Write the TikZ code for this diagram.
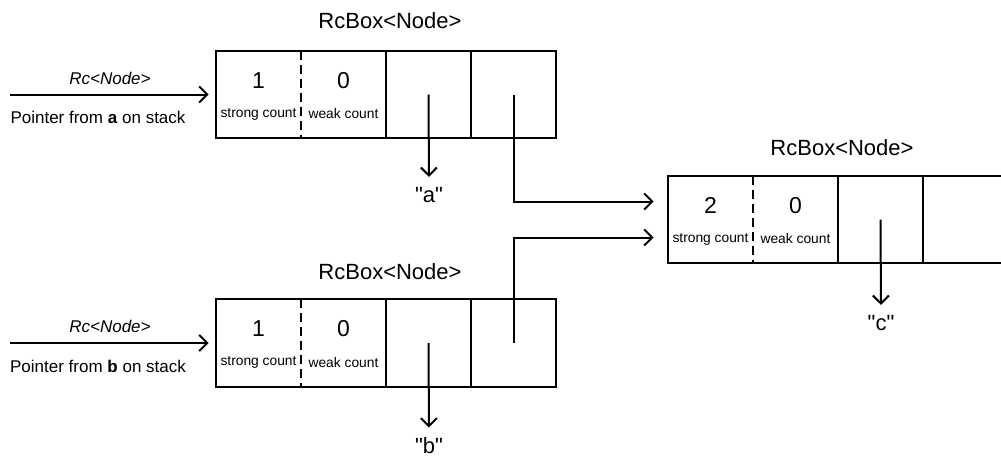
\documentclass[tikz,border=0pt]{standalone}
\usepackage{fontspec}
\setmainfont{Liberation Sans}[Ligatures=TeXOff]
\usetikzlibrary{arrows.meta}

\begin{document}
\begin{tikzpicture}[
    x=0.5pt, y=-0.5pt,
    cell/.style={rectangle, inner sep=0pt, minimum width=42.5pt, minimum height=43.5pt},
    frame/.style={line width=1pt},
    divider/.style={line width=1pt, dash pattern=on 4.5pt off 2.5pt},
    ptr/.style={line width=1pt, -{Straight Barb[length=4pt, width=8pt]}},
    title/.style={font=\fontsize{11}{13}\selectfont},
    count/.style={font=\fontsize{11.5}{13}\selectfont},
    countlabel/.style={font=\fontsize{6.9}{9}\selectfont, inner sep=0pt},
    stackname/.style={font=\fontsize{8.5}{10}\selectfont\itshape},
    stacklabel/.style={font=\fontsize{8.5}{10}\selectfont},
    value/.style={font=\fontsize{11}{13}\selectfont, inner sep=1pt}
]
    \useasboundingbox (0,0) rectangle (1001,456);
    \clip (0,0) rectangle (1001,456);

    % RcBox pointed to by a
    \node[title] (atitle) at (390, 21) {RcBox<Node>};
    \node[cell] (a1) at (258.5, 94.5) {};
    \node[cell] (a2) at (343.5, 94.5) {};
    \node[cell] (a3) at (428.5, 94.5) {};
    \node[cell] (a4) at (513.5, 94.5) {};
    \draw[frame] (a1.north west) rectangle (a4.south east);
    \draw[divider] (a1.north east) -- (a1.south east);
    \draw[frame] (a2.north east) -- (a2.south east);
    \draw[frame] (a3.north east) -- (a3.south east);
    \node[count] (astrong) at ([yshift=7pt]a1.center) {1};
    \node[count] (aweak) at ([yshift=7pt]a2.center) {0};
    \node[countlabel] (astronglbl) at ([yshift=-9.75pt]a1.center) {strong count};
    \node[countlabel] (aweaklbl) at ([yshift=-9.75pt]a2.center) {weak count};
    \node[value] (aval) at (429, 195) {"a"};

    % RcBox pointed to by b
    \node[title] (btitle) at (390, 272) {RcBox<Node>};
    \node[cell] (b1) at (258.5, 343) {};
    \node[cell] (b2) at (343.5, 343) {};
    \node[cell] (b3) at (428.5, 343) {};
    \node[cell] (b4) at (513.5, 343) {};
    \draw[frame] (b1.north west) rectangle (b4.south east);
    \draw[divider] (b1.north east) -- (b1.south east);
    \draw[frame] (b2.north east) -- (b2.south east);
    \draw[frame] (b3.north east) -- (b3.south east);
    \node[count] (bstrong) at ([yshift=7pt]b1.center) {1};
    \node[count] (bweak) at ([yshift=7pt]b2.center) {0};
    \node[countlabel] (bstronglbl) at ([yshift=-9.75pt]b1.center) {strong count};
    \node[countlabel] (bweaklbl) at ([yshift=-9.75pt]b2.center) {weak count};
    \node[value] (bval) at (429, 446) {"b"};

    % shared RcBox (c)
    \node[title] (ctitle) at (842, 148) {RcBox<Node>};
    \node[cell] (c1) at (710.5, 219.5) {};
    \node[cell] (c2) at (795.5, 219.5) {};
    \node[cell] (c3) at (880.5, 219.5) {};
    \node[cell] (c4) at (965.5, 219.5) {};
    \draw[frame] (c1.north west) rectangle (c4.south east);
    \draw[divider] (c1.north east) -- (c1.south east);
    \draw[frame] (c2.north east) -- (c2.south east);
    \draw[frame] (c3.north east) -- (c3.south east);
    \node[count] (cstrong) at ([yshift=7pt]c1.center) {2};
    \node[count] (cweak) at ([yshift=7pt]c2.center) {0};
    \node[countlabel] (cstronglbl) at ([yshift=-9.75pt]c1.center) {strong count};
    \node[countlabel] (cweaklbl) at ([yshift=-9.75pt]c2.center) {weak count};
    \node[value] (cval) at (881, 323) {"c"};

    % pointers from the stack
    \coordinate (astack) at (10, 94.5);
    \coordinate (bstack) at (10, 343);
    \node[stackname] (arc) at (110, 78) {Rc<Node>};
    \node[stacklabel] (aptr) at (98, 117) {Pointer from \textbf{a} on stack};
    \node[stackname] (brc) at (110, 326) {Rc<Node>};
    \node[stacklabel] (bptr) at (98, 366) {Pointer from \textbf{b} on stack};
    \draw[ptr] (astack) -- ([xshift=-3.5pt]a1.west);
    \draw[ptr] (bstack) -- ([xshift=-3.5pt]b1.west);

    % value pointers
    \draw[ptr, shorten >=4pt] (a3.center) -- (aval.north);
    \draw[ptr, shorten >=4pt] (b3.center) -- (bval.north);
    \draw[ptr, shorten >=4pt] (c3.center) -- (cval.north);

    % next pointers into the shared box
    \draw[ptr] (a4.center) |- ([shift={(-7pt,9pt)}]c1.west);
    \draw[ptr] (b4.center) |- ([shift={(-7pt,-9pt)}]c1.west);
\end{tikzpicture}
\end{document}
